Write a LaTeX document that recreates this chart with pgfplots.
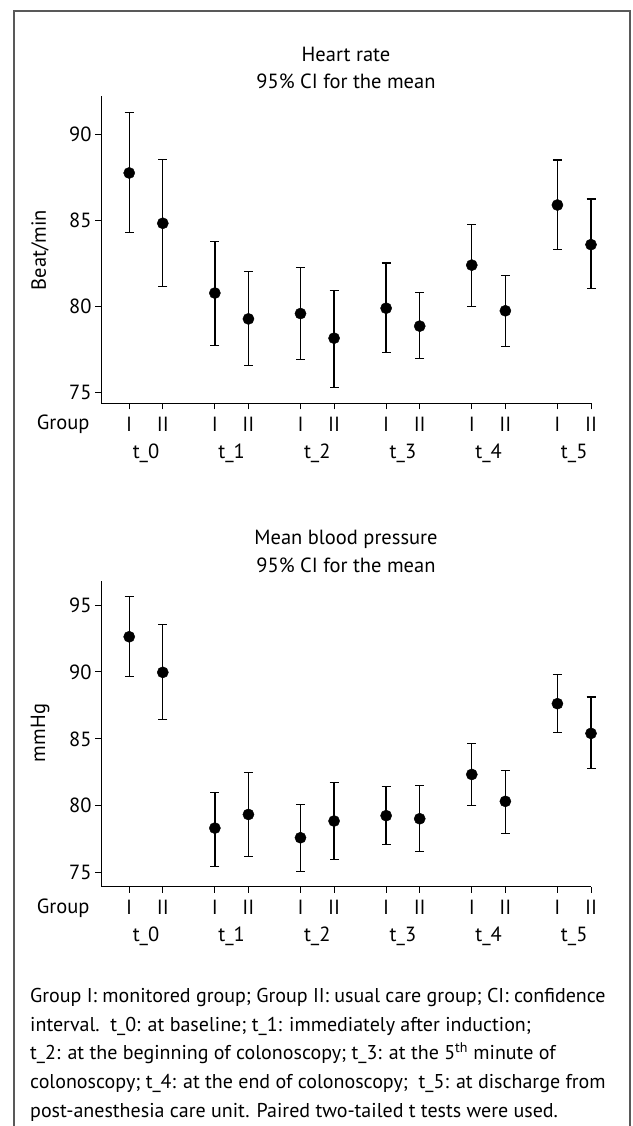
\documentclass[border=0pt]{standalone}
\usepackage{pgfplots}
\pgfplotsset{compat=1.18}
\usepackage{pgfplotstable}
\usepackage{fontspec}
\setmainfont{PT Sans}

% x positions: group k -> I at 2.55k, II at 2.55k+1
\pgfplotstableread{
x     y      lo     hi
0     87.75  84.30  91.24
1     84.83  81.16  88.55
2.55  80.78  77.73  83.78
3.55  79.28  76.57  82.03
5.10  79.59  76.92  82.27
6.10  78.16  75.29  80.93
7.65  79.90  77.33  82.52
8.65  78.86  76.99  80.83
10.20 82.40  80.00  84.77
11.20 79.75  77.69  81.80
12.75 85.89  83.31  88.51
13.75 83.59  81.05  86.24
}\hrtable

\pgfplotstableread{
x     y      lo     hi
0     92.63  89.64  95.62
1     89.97  86.43  93.53
2.55  78.33  75.47  80.97
3.55  79.35  76.22  82.49
5.10  77.61  75.07  80.10
6.10  78.86  75.97  81.75
7.65  79.26  77.11  81.45
8.65  79.03  76.56  81.50
10.20 82.34  80.00  84.66
11.20 80.33  77.91  82.64
12.75 87.63  85.46  89.82
13.75 85.41  82.77  88.12
}\bptable

\newcommand{\lbl}{\fontsize{20.5bp}{24bp}\selectfont}

\pgfplotsset{
  ciplot/.style={
    scale only axis,
    width=490bp, height=307bp,
    xmin=-0.84, xmax=13.75,
    axis x line=bottom, axis y line=left,
    axis line style={-, line width=1bp},
    tick style={line width=1bp, black},
    tick align=outside,
    major tick length=6bp,
    clip=false,
    font=\lbl,
    tick label style={font=\lbl},
    /pgf/number format/assume math mode=true,
    xtick={0,1,2.55,3.55,5.1,6.1,7.65,8.65,10.2,11.2,12.75,13.75},
    xticklabels={I,II,I,II,I,II,I,II,I,II,I,II},
    xticklabel style={yshift=-4bp},
    extra x ticks={0.5,3.05,5.6,8.15,10.7,13.25},
    extra x tick labels={t\_0,t\_1,t\_2,t\_3,t\_4,t\_5},
    extra x tick style={major tick length=0pt, tick label style={yshift=-33bp}},
  },
  ciseries/.style={
    only marks, black, mark=*, mark size=5.6bp,
    mark options={fill=black, draw=black},
    error bars/.cd, y dir=both, y explicit,
    error bar style={line width=1.3bp, black},
    error mark options={rotate=90, mark size=4.5bp, line width=1.3bp, black},
  },
}

\begin{document}
\begin{tikzpicture}
\useasboundingbox (0bp,0bp) rectangle (633bp,-1126bp);
\draw[line width=1.5bp, black!65] (14bp,-1140bp) -- (14bp,-11bp) -- (630bp,-11bp) -- (630bp,-1140bp);

\node[font=\lbl] at (346bp,-54bp) {Heart rate};
\node[font=\lbl] at (346bp,-81bp) {95\% CI for the mean};

\begin{axis}[ciplot, at={(101bp,-403.3bp)}, anchor=south west,
  ymin=74.38, ymax=92.2, ytick={75,80,85,90}]
\addplot[ciseries] table[x=x, y=y,
  y error plus expr=\thisrow{hi}-\thisrow{y},
  y error minus expr=\thisrow{y}-\thisrow{lo}] {\hrtable};
\end{axis}
\node[font=\lbl, rotate=90] at (40bp,-250bp) {Beat/min};
\node[font=\lbl, anchor=east] at (93bp,-424bp) {Group};

\node[font=\lbl] at (346bp,-539bp) {Mean blood pressure};
\node[font=\lbl] at (346bp,-565bp) {95\% CI for the mean};

\begin{axis}[ciplot, at={(101bp,-886.7bp)}, anchor=south west, height=306bp,
  ymin=73.95, ymax=96.82, ytick={75,80,85,90,95}]
\addplot[ciseries] table[x=x, y=y,
  y error plus expr=\thisrow{hi}-\thisrow{y},
  y error minus expr=\thisrow{y}-\thisrow{lo}] {\bptable};
\end{axis}
\node[font=\lbl, rotate=90] at (40bp,-733bp) {mmHg};
\node[font=\lbl, anchor=east] at (93bp,-908bp) {Group};

\node[anchor=north west, align=left, inner sep=0pt,
  font=\fontsize{20bp}{28.7bp}\selectfont] at (30bp,-988bp) {%
Group I: monitored group; Group II: usual care group; CI: confidence\\
interval.\ \ t\_0: at baseline; t\_1: immediately after induction;\\
t\_2: at the beginning of colonoscopy; t\_3: at the 5\textsuperscript{th} minute of\\
colonoscopy; t\_4: at the end of colonoscopy;\ \ t\_5: at discharge from\\
post-anesthesia care unit. Paired two-tailed t tests were used.};
\end{tikzpicture}
\end{document}
